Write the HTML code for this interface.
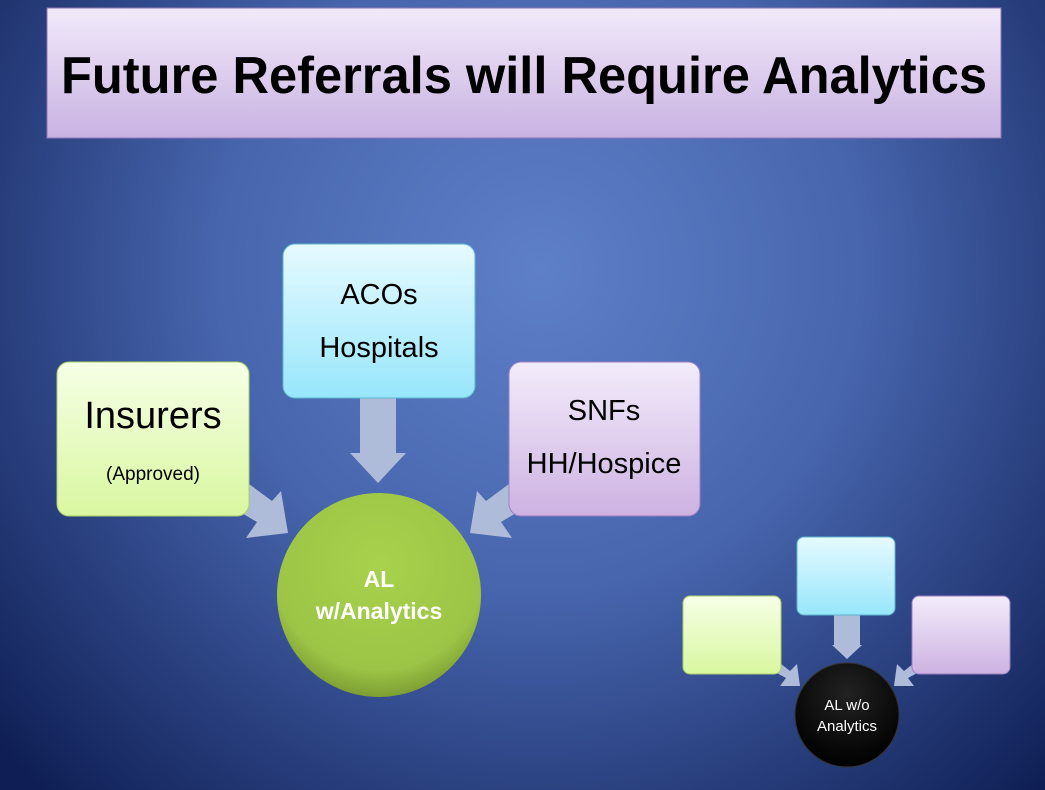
<!DOCTYPE html>
<html><head><style>
html,body{margin:0;padding:0;width:1045px;height:790px;overflow:hidden}
svg{display:block}
text{font-family:"Liberation Sans",sans-serif}
</style></head><body>
<svg width="1045" height="790" viewBox="0 0 1045 790" xmlns="http://www.w3.org/2000/svg">
<defs>
<radialGradient id="bg" cx="540" cy="270" r="720" gradientUnits="userSpaceOnUse">
<stop offset="0" stop-color="#5e80c9"/><stop offset="0.45" stop-color="#4765ad"/><stop offset="1" stop-color="#0f1f55"/>
</radialGradient>
<linearGradient id="tt" x1="0" y1="0" x2="0" y2="1"><stop offset="0" stop-color="#f2eafa"/><stop offset="1" stop-color="#c8b2e2"/></linearGradient>
<linearGradient id="gr" x1="0" y1="0" x2="0" y2="1"><stop offset="0" stop-color="#f6ffe6"/><stop offset="1" stop-color="#d9f7a0"/></linearGradient>
<linearGradient id="cy" x1="0" y1="0" x2="0" y2="1"><stop offset="0" stop-color="#e6faff"/><stop offset="1" stop-color="#98e6fb"/></linearGradient>
<linearGradient id="pu" x1="0" y1="0" x2="0" y2="1"><stop offset="0" stop-color="#f3ecfa"/><stop offset="1" stop-color="#cdb2e2"/></linearGradient>
<radialGradient id="gc" cx="0.5" cy="0.35" r="0.65"><stop offset="0" stop-color="#a8d24c"/><stop offset="0.8" stop-color="#9cc446"/><stop offset="1" stop-color="#7d9e32"/></radialGradient>
<radialGradient id="bc" cx="0.5" cy="0.3" r="0.7"><stop offset="0" stop-color="#222"/><stop offset="1" stop-color="#000"/></radialGradient>
</defs>
<rect width="1045" height="790" fill="url(#bg)"/>
<rect x="47" y="8" width="954" height="130" fill="url(#tt)" stroke="#8f76b8" stroke-width="1"/>
<text x="524" y="93" font-size="52" font-weight="bold" text-anchor="middle" textLength="926" lengthAdjust="spacingAndGlyphs" fill="#000">Future Referrals will Require Analytics</text>

<g fill="#aebcd9">
<polygon points="360,398 396,398 396,453 406,453 378,483 350,453 360,453"/>
<polygon points="249,484 272,501 281,491 288,533 246,538 257,522 240,512"/>
<polygon points="509,484 486,501 477,491 470,533 512,538 501,522 518,512"/>
<polygon points="834,615 860,615 860,645 862,645 847,659 832,645 834,645"/>
<polygon points="776,660 790,671 797,664 800,686 780,686 786,678 775,672"/>
<polygon points="918,660 904,671 897,664 894,686 914,686 908,678 919,672"/>
</g>

<rect x="57" y="362" width="192" height="154" rx="12" fill="url(#gr)" stroke="#a9cf6a"/>
<text x="153" y="428" font-size="38" text-anchor="middle">Insurers</text>
<text x="153" y="480" font-size="19" text-anchor="middle">(Approved)</text>

<rect x="283" y="244" width="192" height="154" rx="12" fill="url(#cy)" stroke="#5bb6cc"/>
<text x="379" y="304" font-size="29" text-anchor="middle">ACOs</text>
<text x="379" y="357" font-size="29" text-anchor="middle">Hospitals</text>

<rect x="509" y="362" width="191" height="154" rx="12" fill="url(#pu)" stroke="#9b7fc0"/>
<text x="604" y="420" font-size="29" text-anchor="middle">SNFs</text>
<text x="604" y="473" font-size="29" text-anchor="middle">HH/Hospice</text>

<circle cx="379" cy="595" r="102" fill="url(#gc)"/>
<text x="379" y="587" font-size="23" font-weight="bold" fill="#fff" text-anchor="middle">AL</text>
<text x="379" y="619" font-size="23" font-weight="bold" fill="#fff" text-anchor="middle">w/Analytics</text>

<rect x="683" y="596" width="98" height="78" rx="7" fill="url(#gr)" stroke="#a9cf6a"/>
<rect x="797" y="537" width="98" height="78" rx="7" fill="url(#cy)" stroke="#5bb6cc"/>
<rect x="912" y="596" width="98" height="78" rx="7" fill="url(#pu)" stroke="#9b7fc0"/>

<circle cx="847" cy="715" r="52" fill="url(#bc)" stroke="#333"/>
<text x="847" y="710" font-size="15" fill="#fff" text-anchor="middle">AL w/o</text>
<text x="847" y="731" font-size="15" fill="#fff" text-anchor="middle">Analytics</text>
</svg>
</body></html>
